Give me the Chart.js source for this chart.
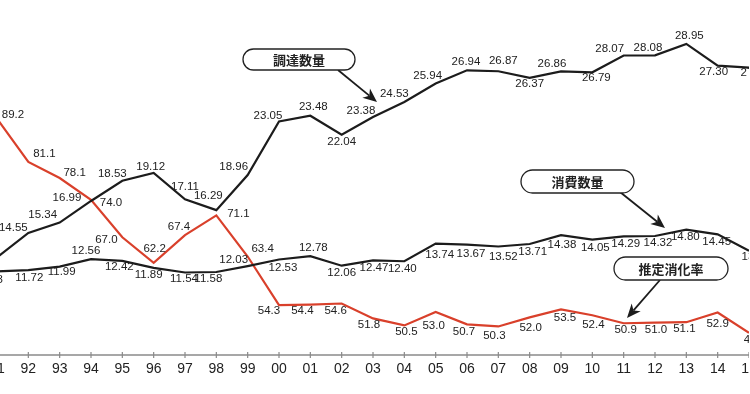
<!DOCTYPE html>
<html><head><meta charset="utf-8">
<script src="https://cdn.jsdelivr.net/npm/chart.js@4/dist/chart.umd.min.js"></script>
<style>
html,body{margin:0;padding:0;background:#fff;overflow:hidden;}
#wrap{position:relative;width:750px;height:394px;overflow:hidden;background:#fff;}
#box{position:absolute;left:-3px;top:0;width:752px;height:394px;}
</style></head><body>
<div id="wrap"><div id="box"><canvas id="c"></canvas></div></div>
<script>
// ---- data ----
const years = ['91','92','93','94','95','96','97','98','99','00','01','02','03','04','05','06','07','08','09','10','11','12','13','14','15'];
const procurement = [12.70,14.55,15.34,16.99,18.53,19.12,17.11,16.29,18.96,23.05,23.48,22.04,23.38,24.53,25.94,26.94,26.87,26.37,26.86,26.79,28.07,28.08,28.95,27.30,27.15];
const consumption = [11.63,11.72,11.99,12.56,12.42,11.89,11.54,11.58,12.03,12.53,12.78,12.06,12.47,12.40,13.74,13.67,13.52,13.71,14.38,14.05,14.29,14.32,14.80,14.45,13.20];
const digestionRate = [89.2,81.1,78.1,74.0,67.0,62.2,67.4,71.1,63.4,54.3,54.4,54.6,51.8,50.5,53.0,50.7,50.3,52.0,53.5,52.4,50.9,51.0,51.1,52.9,49.1];
const seriesNames = ['調達数量','消費数量','推定消化率'];

// ---- label placement (offsets of value labels from their points, px) ----
const procOff = [[-14,-6],[-15,-5],[-17,-8],[-24,-3],[-10,-7],[-3,-6],[0,-13],[-8,-14],[-14,-8],[-11,-6],[3,-9],[0,7],[-12,-6],[-10,-8],[-8,-8],[-1,-8],[5,-10],[0,6],[-9,-8],[4,6],[-14,-7],[-7,-8],[3,-8],[-4,6],[6,5]];
const consOff = [[-8,8],[1,8],[2,5],[-5,-8],[-3,6],[-5,7],[-1,6],[-8,7],[-14,-6],[4,8],[3,-8],[0,7],[1,8],[-2,8],[4,11],[4,9],[5,10],[3,8],[1,10],[3,8],[2,7],[3,7],[-1,7],[-1,8],[7,6]];
const rateOff = [[16,-4],[16,-8],[15,-5],[20,3],[-16,3],[1,-14],[-6,-8],[22,-2],[15,-8],[-10,6],[-8,6],[-6,7],[-4,6],[2,6],[-2,14],[-3,8],[-4,9],[1,10],[4,8],[1,10],[2,7],[1,7],[-2,7],[0,11],[6,7]];

const SHIFT = 3; // canvas is offset 3px left of the page

const BLACK = '#1c1c1c';
const RED = '#d9402b';

const overlay = {
  id: 'overlay',
  afterDatasetsDraw(chart) {
    const ctx = chart.ctx;
    const xs = chart.scales.x;
    ctx.save();
    // value labels
    ctx.font = "11.5px 'Liberation Sans', Arial, sans-serif";
    ctx.fillStyle = '#222';
    ctx.textAlign = 'center';
    ctx.textBaseline = 'middle';
    const sets = [[0, procOff, 2], [1, consOff, 2], [2, rateOff, 1]];
    sets.forEach(([di, off, dec]) => {
      const meta = chart.getDatasetMeta(di);
      const vals = chart.data.datasets[di].data;
      meta.data.forEach((pt, i) => {
        const t = vals[i].toFixed(dec);
        const x = pt.x + off[i][0], y = pt.y + off[i][1];
        ctx.fillStyle = 'rgba(255,255,255,0)';
        ctx.fillStyle = '#222';
        ctx.fillText(t, x, y);
      });
    });
    // x axis line, ticks, labels
    const axisY = 355;
    ctx.strokeStyle = '#8a8a8a';
    ctx.lineWidth = 1.5;
    ctx.beginPath();
    ctx.moveTo(0, axisY); ctx.lineTo(chart.width, axisY);
    ctx.stroke();
    ctx.lineWidth = 1.2;
    ctx.font = "14px 'Liberation Sans', Arial, sans-serif";
    ctx.fillStyle = '#222';
    years.forEach((yr, i) => {
      const px = xs.getPixelForValue(i);
      ctx.beginPath();
      ctx.moveTo(px, axisY - 3); ctx.lineTo(px, axisY + 3);
      ctx.stroke();
      ctx.fillText(yr, px, 369);
    });
    // callouts
    function pill(x1, y1, x2, y2, text) {
      const r = (y2 - y1) / 2;
      ctx.beginPath();
      ctx.moveTo(x1 + r + SHIFT, y1);
      ctx.lineTo(x2 - r + SHIFT, y1);
      ctx.arc(x2 - r + SHIFT, y1 + r, r, -Math.PI / 2, Math.PI / 2);
      ctx.lineTo(x1 + r + SHIFT, y2);
      ctx.arc(x1 + r + SHIFT, y1 + r, r, Math.PI / 2, Math.PI * 1.5);
      ctx.closePath();
      ctx.fillStyle = '#fff';
      ctx.fill();
      ctx.strokeStyle = '#222';
      ctx.lineWidth = 1.3;
      ctx.stroke();
      ctx.fillStyle = '#222';
      ctx.font = "bold 13px 'Noto Sans CJK JP', sans-serif";
      ctx.textAlign = 'center';
      ctx.textBaseline = 'middle';
      ctx.fillText(text, (x1 + x2) / 2 + SHIFT, (y1 + y2) / 2 + 0.5);
    }
    function arrow(x1, y1, x2, y2) {
      x1 += SHIFT; x2 += SHIFT;
      const a = Math.atan2(y2 - y1, x2 - x1);
      const L = 14, W = 6, N = 10;
      ctx.strokeStyle = '#1c1c1c';
      ctx.lineWidth = 1.8;
      ctx.beginPath();
      ctx.moveTo(x1, y1);
      ctx.lineTo(x2 - Math.cos(a) * N, y2 - Math.sin(a) * N);
      ctx.stroke();
      const bx = x2 - Math.cos(a) * L, by = y2 - Math.sin(a) * L;
      const nx = x2 - Math.cos(a) * N, ny = y2 - Math.sin(a) * N;
      ctx.fillStyle = '#1c1c1c';
      ctx.beginPath();
      ctx.moveTo(x2, y2);
      ctx.lineTo(bx + Math.sin(a) * W, by - Math.cos(a) * W);
      ctx.lineTo(nx, ny);
      ctx.lineTo(bx - Math.sin(a) * W, by + Math.cos(a) * W);
      ctx.closePath();
      ctx.fill();
    }
    arrow(338, 70, 377, 102);
    arrow(620, 192, 665, 228);
    arrow(660, 280, 627, 318);
    pill(243, 49, 355, 70, seriesNames[0]);
    pill(521, 170, 634, 193, seriesNames[1]);
    pill(614, 257, 728, 280, seriesNames[2]);
    ctx.restore();
  }
};

new Chart(document.getElementById('c'), {
  type: 'line',
  data: {
    labels: years,
    datasets: [
      { label: seriesNames[0], data: procurement, yAxisID: 'y', borderColor: BLACK, borderWidth: 2.2, pointRadius: 0, tension: 0, fill: false },
      { label: seriesNames[1], data: consumption, yAxisID: 'y', borderColor: BLACK, borderWidth: 2.2, pointRadius: 0, tension: 0, fill: false },
      { label: seriesNames[2], data: digestionRate, yAxisID: 'y2', borderColor: RED, borderWidth: 2.2, pointRadius: 0, tension: 0, fill: false }
    ]
  },
  options: {
    responsive: true,
    maintainAspectRatio: false,
    animation: false,
    layout: { padding: 0 },
    plugins: { legend: { display: false }, tooltip: { enabled: false } },
    scales: {
      x: { type: 'category', display: false, offset: false },
      y: { display: false, min: 2.288, max: 32.295 },
      y2: { display: false, min: 37.65, max: 111.44 }
    }
  },
  plugins: [overlay]
});
</script>
</body></html>
